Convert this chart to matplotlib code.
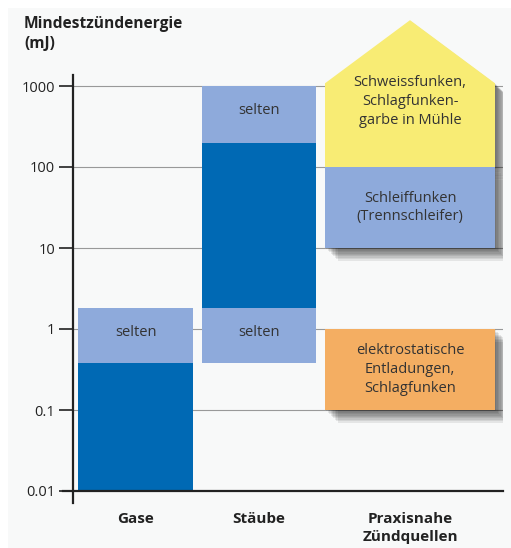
import matplotlib
matplotlib.use("Agg")
import matplotlib.pyplot as plt
import matplotlib.patheffects as pe
from matplotlib.patches import Polygon, Rectangle

plt.rcParams['font.family'] = ['Open Sans', 'DejaVu Sans']

# data (mJ)
categories = ['Gase', 'Stäube', 'Praxisnahe\nZündquellen']
gase_dark = (0.01, 0.38)
gase_light = (0.38, 1.8)
staub_light_low = (0.38, 1.8)
staub_dark = (1.8, 200)
staub_light_high = (200, 1000)
sources = ['Schweissfunken,\nSchlagfunken-\ngarbe in Mühle',
           'Schleiffunken\n(Trennschleifer)',
           'elektrostatische\nEntladungen,\nSchlagfunken']
source_ranges = [(100, 1000), (10, 100), (0.1, 1)]
house_peak = 6500
yticks = [0.01, 0.1, 1, 10, 100, 1000]
yticklabels = ['0.01', '0.1', '1', '10', '100', '1000']

# layout
W, H = 511, 548
x_pos = [62.5, 186, 337]
widths = [115, 114, 170]
dark = '#0069b4'
light = '#8eaadb'
col_src = ['#f8ec74', '#8eaadb', '#f4ae62']
txt = '#333333'

fig = plt.figure(figsize=(W / 100, H / 100), dpi=100)
fig.patch.set_facecolor('white')
fig.patches.append(Rectangle((8 / W, 0), 1, (H - 8) / H, transform=fig.transFigure,
                             facecolor='#f8f9f9', edgecolor='none', zorder=-10))
ax = fig.add_axes([73 / W, (H - 491) / H, 430 / W, 471 / H])
ax.set_facecolor('none')
ax.set_yscale('log')
ax.set_xlim(0, 430)
ax.set_ylim(0.01, 10 ** (-2 + 471 / 81))

for s in ax.spines.values():
    s.set_visible(False)
ax.plot([0, 0], [-12 / 471, (491 - 75) / 471], transform=ax.transAxes, color='#222222',
        lw=1.6, clip_on=False, zorder=6)
ax.plot([-10 / 430, 1], [0, 0], transform=ax.transAxes, color='#222222',
        lw=1.6, clip_on=False, zorder=6)
for t in yticks[1:]:
    ax.axhline(t, color='#999999', lw=0.8, zorder=0)

ax.set_yticks(yticks)
ax.set_yticklabels(yticklabels, fontsize=10.5, color='#222222')
ax.minorticks_off()
ax.tick_params(axis='y', length=10, width=1.2, color='#222222', pad=3)
ax.set_xticks(x_pos)
ax.set_xticklabels(categories, fontsize=11, fontweight='bold', color='#222222',
                   linespacing=1.4, va='top')
ax.tick_params(axis='x', length=0, pad=15)

def bar(i, rng, color):
    ax.bar(x_pos[i], rng[1] - rng[0], bottom=rng[0], width=widths[i], color=color,
           edgecolor='none', zorder=2)

bar(0, gase_dark, dark)
bar(0, gase_light, light)
bar(1, staub_light_low, light)
bar(1, staub_dark, dark)
bar(1, staub_light_high, light)

def gmean(r):
    return (r[0] * r[1]) ** 0.5

for xi, rng in [(0, gase_light), (1, staub_light_low), (1, staub_light_high)]:
    ax.text(x_pos[xi], gmean(rng) * 1.1, 'selten', ha='center', va='center',
            fontsize=10.5, color=txt, zorder=5)

shadow = [pe.SimplePatchShadow(offset=(d, -d), shadow_rgbFace='#000000', alpha=0.08)
          for d in range(1, 10)] + [pe.Normal()]

x0 = x_pos[2] - widths[2] / 2
x1 = x_pos[2] + widths[2] / 2
lo, hi = source_ranges[0]
house = Polygon([(x0, lo), (x0, hi * 1.08), (x_pos[2], house_peak), (x1, hi * 1.08), (x1, lo)],
                closed=True, facecolor=col_src[0], edgecolor='none', zorder=3)
house.set_path_effects(shadow)
ax.add_patch(house)
for rng, c in zip(source_ranges[1:], col_src[1:]):
    r = Rectangle((x0, rng[0]), widths[2], rng[1] - rng[0], facecolor=c,
                  edgecolor='none', zorder=3)
    r.set_path_effects(shadow)
    ax.add_patch(r)

text_y = [650, gmean(source_ranges[1]), gmean(source_ranges[2])]
for label, ty in zip(sources, text_y):
    ax.text(x_pos[2], ty, label, ha='center', va='center', fontsize=10.5,
            color=txt, linespacing=1.35, zorder=5)

fig.text(24 / W, 1 - 34 / H, 'Mindestzündenergie\n(mJ)', fontsize=11.2,
         fontweight='bold', color='#222222', ha='left', va='center', linespacing=1.3)

fig.savefig('out.png', dpi=100, facecolor=fig.get_facecolor())
